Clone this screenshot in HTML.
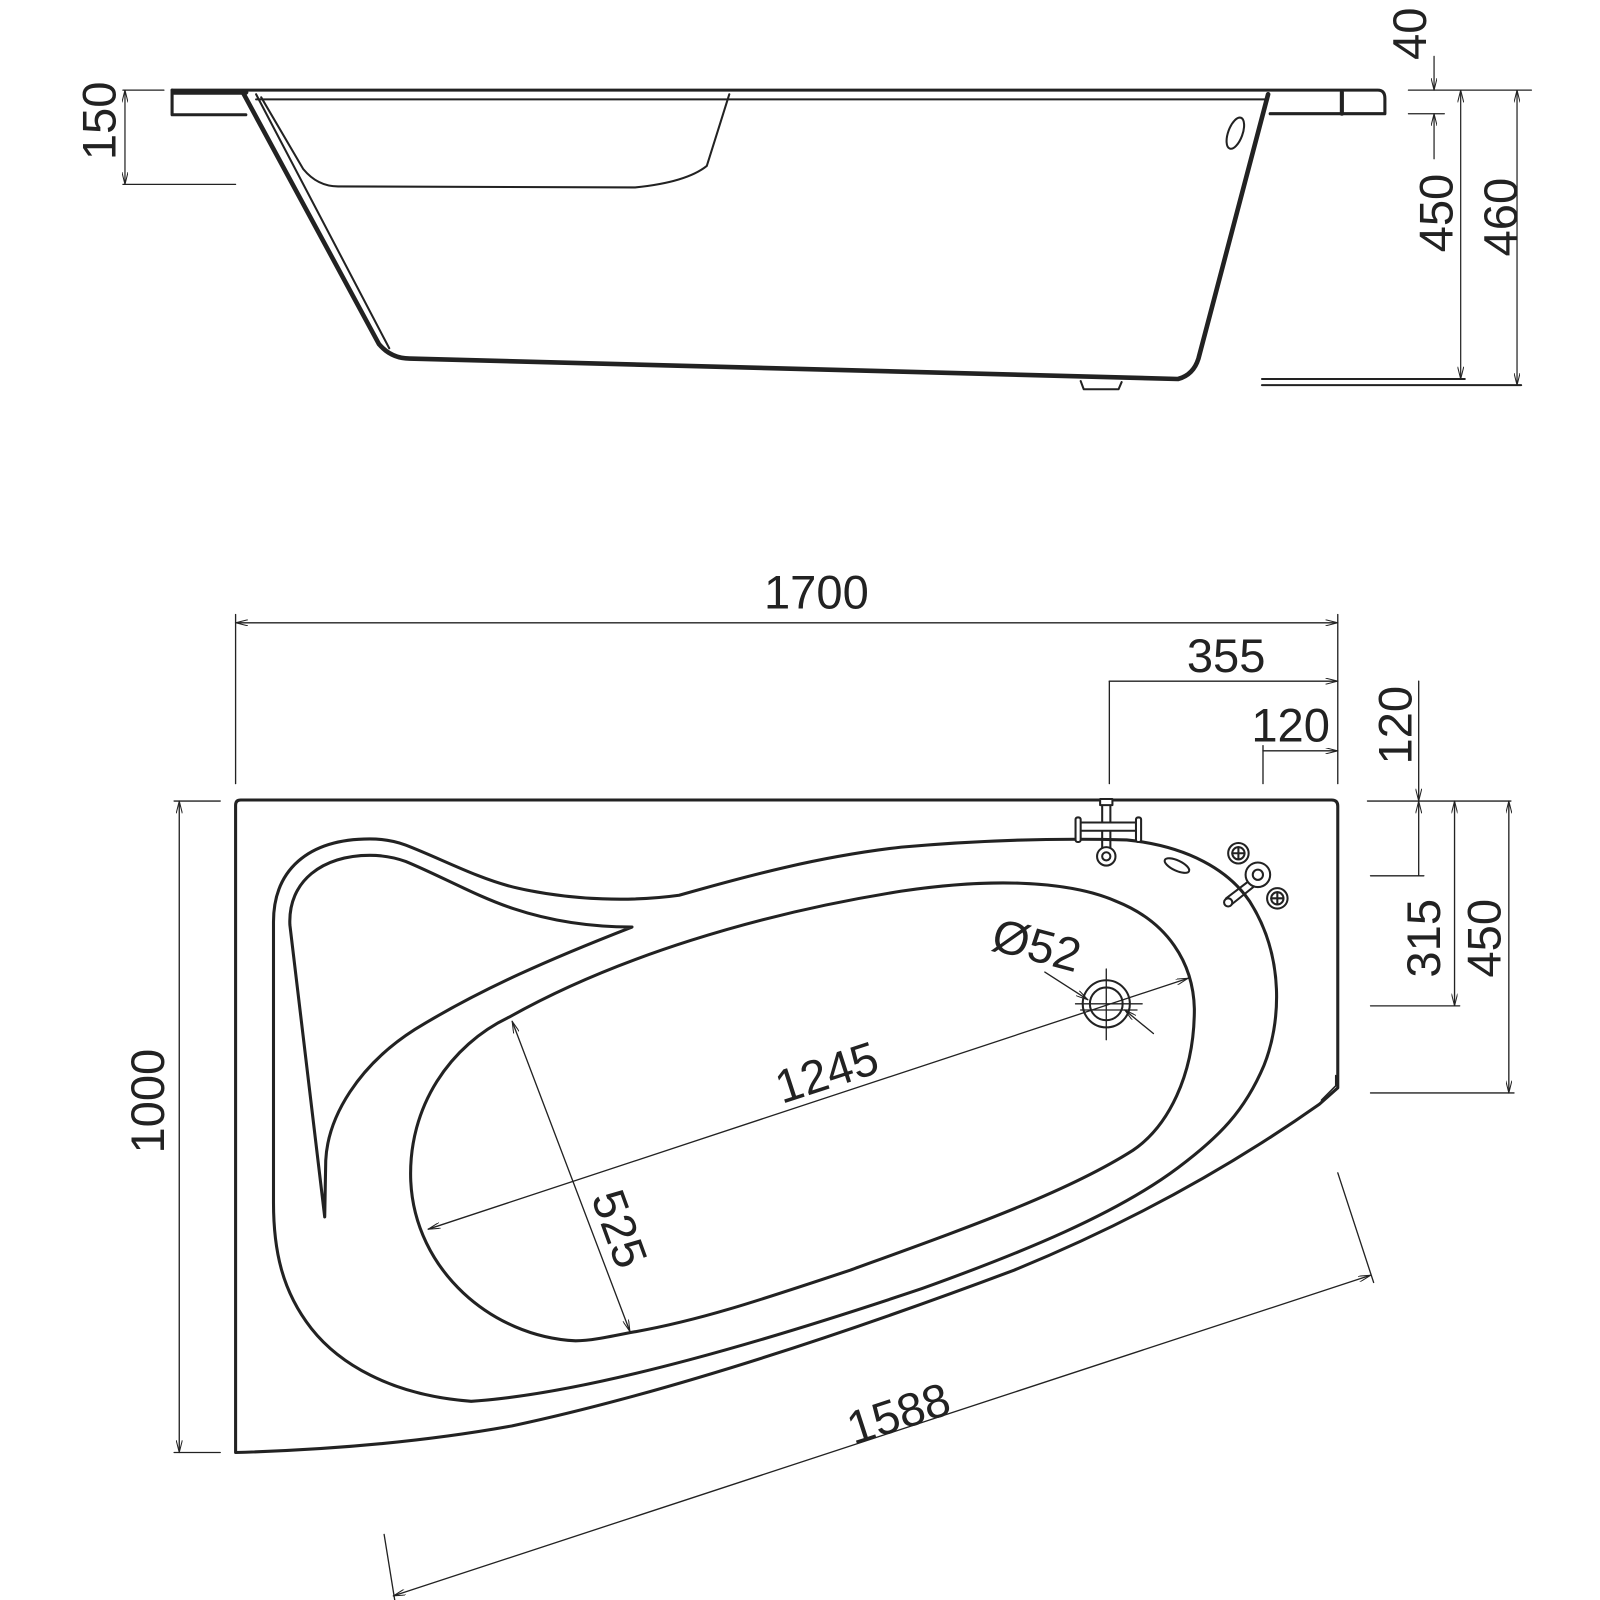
<!DOCTYPE html>
<html><head><meta charset="utf-8"><style>html,body{margin:0;padding:0;background:#fff}svg{display:block}</style></head>
<body>
<svg width="1600" height="1600" viewBox="0 0 1562 1562" xmlns="http://www.w3.org/2000/svg" font-family="Liberation Sans, sans-serif">
<defs>
<marker id="a" viewBox="0 0 12 6" refX="12" refY="3" markerWidth="12" markerHeight="6" orient="auto-start-reverse" markerUnits="userSpaceOnUse"><path d="M0,0 L12,3 L0,6" fill="none" stroke="#222" stroke-width="1"/></marker>
</defs>
<g fill="none" stroke="#222" stroke-linejoin="round" stroke-linecap="round">
<!-- SIDE VIEW -->
<path d="M168,88 L1345,88 Q1352,88 1352,96 L1352,111 L1240,111" stroke-width="3"/>
<path d="M168,88 L168,112 L240,112" stroke-width="3"/>
<line x1="1310" y1="90" x2="1310" y2="111" stroke-width="4"/>
<path d="M170,90 L240,90" stroke-width="5"/>
<path d="M237,90 L370,336 Q382,350 400,350 L1150,370 Q1165,366 1170,350 L1238,92" stroke-width="4.5"/>
<path d="M250,92 L380,340" stroke-width="2"/>
<path d="M250,97 L1238,97" stroke-width="2"/>
<path d="M255,95 L296,165 Q310,182 330,182 L620,183 Q670,178 690,162 L712,92" stroke-width="2"/>
<path d="M1055,372 L1058,380 L1092,380 L1095,373" stroke-width="2"/>
<ellipse cx="1206" cy="130" rx="7" ry="16" transform="rotate(20 1206 130)" stroke-width="2"/>
<!-- side dims -->
<g stroke-width="1.2">
<line x1="120" y1="88" x2="160" y2="88"/><line x1="120" y1="180" x2="230" y2="180"/>
<line x1="122" y1="88" x2="122" y2="180" marker-start="url(#a)" marker-end="url(#a)"/>
<line x1="1375" y1="88" x2="1495" y2="88"/><line x1="1375" y1="111" x2="1410" y2="111"/>
<line x1="1400" y1="55" x2="1400" y2="88" marker-end="url(#a)"/>
<line x1="1400" y1="111" x2="1400" y2="155" marker-start="url(#a)"/>
<line x1="1426" y1="88" x2="1426" y2="370" marker-start="url(#a)" marker-end="url(#a)"/>
<line x1="1481" y1="88" x2="1481" y2="376" marker-start="url(#a)" marker-end="url(#a)"/>
<line x1="1232" y1="370" x2="1430" y2="370" stroke-width="2"/>
<line x1="1232" y1="376" x2="1485" y2="376" stroke-width="2"/>
</g>
<!-- PLAN VIEW -->
<path d="M230,1418 L230,786 Q230,781 235,781 L1300,781 Q1306,781 1306,787 L1306,1062 L1288,1078 C1200,1140 1100,1195 990,1240 C 830,1300 650,1360 500,1392 C 400,1410 300,1416 230,1418 Z" stroke-width="3"/>
<path d="M1304,1050 L1304,1060 L1290,1074" stroke-width="1.5"/>
<!-- rim -->
<path d="M267,1174 L267,900 C267,850 300,819 361,819 C372,819 385,821 396,825 C430,838 465,857 501,866 C560,880 620,880 663,874 C730,855 800,836 880,827 C960,820 1030,818 1100,820 C1160,826 1200,850 1220,880 C1255,935 1250,1000 1234,1040 C1215,1085 1190,1110 1150,1140 C1090,1185 1000,1222 900,1258 C760,1305 580,1360 460,1368 C380,1362 330,1330 304,1297 C275,1260 267,1220 267,1174 Z" stroke-width="3"/>
<!-- seat -->
<path d="M317,1188 L283,903 C281,860 315,835 361,835 C375,835 385,837 396,841 C430,855 465,875 501,887 C540,900 580,905 617,905 C540,935 470,965 405,1005 C350,1040 320,1090 318,1133 Z" stroke-width="3"/>
<!-- basin -->
<path d="M401,1153 C398,1080 440,1020 497,993 C600,935 740,892 880,870 C960,858 1040,858 1090,880 C1140,900 1165,940 1166,985 C1166,1050 1140,1100 1106,1123 C1040,1165 940,1200 830,1240 C740,1270 680,1290 615,1301 C590,1306 575,1309 562,1309 C480,1305 405,1240 401,1153 Z" stroke-width="3"/>
<!-- faucet -->
<g stroke-width="2">
<line x1="1076" y1="781" x2="1076" y2="828"/><line x1="1084" y1="781" x2="1084" y2="828"/>
<circle cx="1080" cy="836" r="9" fill="#fff"/><circle cx="1080" cy="836" r="4"/>
<rect x="1052" y="803" width="60" height="8" fill="#fff"/>
<rect x="1050" y="798" width="5" height="24" rx="2" fill="#fff"/><rect x="1109" y="798" width="5" height="24" rx="2" fill="#fff"/>
<rect x="1074" y="780" width="12" height="6" fill="#fff"/>
<ellipse cx="1149" cy="845" rx="13" ry="5" transform="rotate(25 1149 845)"/>
<circle cx="1209" cy="833" r="10"/><circle cx="1209" cy="833" r="6"/><path d="M1203,833 H1215 M1209,827 V839"/>
<circle cx="1247" cy="877" r="10"/><circle cx="1247" cy="877" r="6"/><path d="M1241,877 H1253 M1247,871 V883"/>
<path d="M1197,877 L1222,858 M1201,884 L1226,864"/><circle cx="1199" cy="881" r="4" fill="#fff"/>
<circle cx="1228" cy="854" r="12" fill="#fff"/><circle cx="1228" cy="854" r="5"/>
</g>
<!-- drain -->
<g stroke-width="2"><circle cx="1080" cy="980" r="23"/><circle cx="1080" cy="980" r="16"/></g>
<g stroke-width="1.3">
<line x1="1080" y1="946" x2="1080" y2="1015"/><line x1="1050" y1="980" x2="1115" y2="980"/><line x1="1055" y1="986" x2="1110" y2="986"/>
<line x1="1020" y1="949" x2="1062" y2="976" marker-end="url(#a)"/>
<line x1="1126" y1="1009" x2="1098" y2="986" marker-end="url(#a)"/>
<line x1="418" y1="1200" x2="1160" y2="955" marker-start="url(#a)" marker-end="url(#a)"/>
<line x1="500" y1="997" x2="615" y2="1300" marker-start="url(#a)" marker-end="url(#a)"/>
<!-- plan dims -->
<line x1="230" y1="600" x2="230" y2="765"/><line x1="1306" y1="600" x2="1306" y2="765"/>
<line x1="230" y1="608" x2="1306" y2="608" marker-start="url(#a)" marker-end="url(#a)"/>
<line x1="1083" y1="665" x2="1083" y2="765"/>
<line x1="1083" y1="665" x2="1306" y2="665" marker-end="url(#a)"/>
<line x1="1233" y1="728" x2="1233" y2="765"/>
<line x1="1233" y1="733" x2="1306" y2="733" marker-end="url(#a)"/>
<line x1="1335" y1="782" x2="1475" y2="782"/>
<line x1="1385" y1="665" x2="1385" y2="782" marker-end="url(#a)"/>
<line x1="1385" y1="782" x2="1385" y2="855" marker-start="url(#a)"/>
<line x1="1338" y1="855" x2="1390" y2="855"/>
<line x1="1420" y1="782" x2="1420" y2="982" marker-start="url(#a)" marker-end="url(#a)"/>
<line x1="1338" y1="982" x2="1425" y2="982"/>
<line x1="1473" y1="782" x2="1473" y2="1067" marker-start="url(#a)" marker-end="url(#a)"/>
<line x1="1338" y1="1067" x2="1478" y2="1067"/>
<line x1="170" y1="782" x2="215" y2="782"/><line x1="170" y1="1418" x2="215" y2="1418"/>
<line x1="175" y1="782" x2="175" y2="1418" marker-start="url(#a)" marker-end="url(#a)"/>
<line x1="1306" y1="1145" x2="1341" y2="1252"/>
<line x1="375" y1="1498" x2="386" y2="1566"/>
<line x1="384" y1="1558" x2="1338" y2="1245" marker-start="url(#a)" marker-end="url(#a)"/>
</g>
</g>
<g fill="#222" font-size="46">
<text x="0" y="0" text-anchor="middle" transform="translate(113,118) rotate(-90)">150</text>
<text x="0" y="0" text-anchor="middle" transform="translate(1392,33) rotate(-90)">40</text>
<text x="0" y="0" text-anchor="middle" transform="translate(1418,208) rotate(-90)">450</text>
<text x="0" y="0" text-anchor="middle" transform="translate(1481,212) rotate(-90)">460</text>
<text x="797" y="594" text-anchor="middle">1700</text>
<text x="1197" y="656" text-anchor="middle">355</text>
<text x="1260" y="724" text-anchor="middle">120</text>
<text x="0" y="0" text-anchor="middle" transform="translate(1378,708) rotate(-90)">120</text>
<text x="0" y="0" text-anchor="middle" transform="translate(1406,916) rotate(-90)">315</text>
<text x="0" y="0" text-anchor="middle" transform="translate(1465,916) rotate(-90)">450</text>
<text x="0" y="0" text-anchor="middle" transform="translate(160,1075) rotate(-90)">1000</text>
<text x="0" y="0" text-anchor="middle" transform="translate(812,1062) rotate(-18)">1245</text>
<text x="0" y="0" text-anchor="middle" transform="translate(590,1205) rotate(70)">525</text>
<text x="0" y="0" text-anchor="middle" transform="translate(1008,938) rotate(15)">Ø52</text>
<text x="0" y="0" text-anchor="middle" transform="translate(882,1395) rotate(-18)">1588</text>
</g>
</svg>
</body></html>
